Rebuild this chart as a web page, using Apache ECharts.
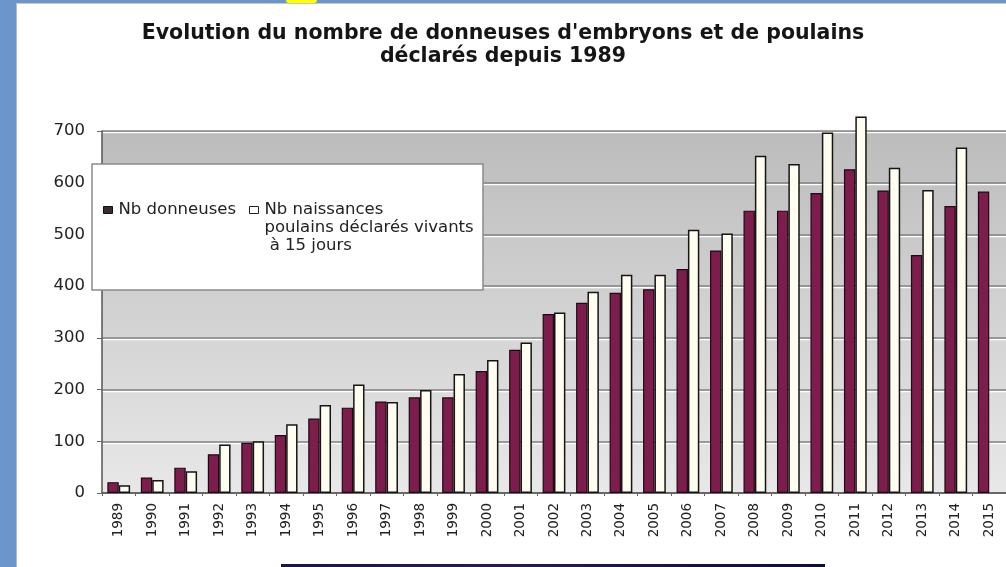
<!DOCTYPE html>
<html>
<head>
<meta charset="utf-8">
<script src="https://cdn.jsdelivr.net/npm/echarts@6/dist/echarts.min.js"></script>
<style>
html,body{margin:0;padding:0;background:#ffffff;}
#c{width:1006px;height:567px;}
</style>
</head>
<body>
<div id="c"></div>
<script>
var years = ['1989','1990','1991','1992','1993','1994','1995','1996','1997','1998','1999','2000','2001','2002','2003','2004','2005','2006','2007','2008','2009','2010','2011','2012','2013','2014','2015'];
var donneuses = [21,30,49,75,97,112,144,165,177,185,185,236,277,346,368,387,394,433,469,546,546,580,626,585,460,555,583];
var naissances = [15,25,42,94,100,133,170,210,176,199,230,257,291,349,389,422,422,509,502,652,636,697,728,629,586,668,null];
var yTicks = [0,100,200,300,400,500,600,700];
var titleText = "Evolution du nombre de donneuses d'embryons et de poulains\ndéclarés depuis 1989";
var name1 = 'Nb donneuses';
var name2 = 'Nb naissances poulains déclarés vivants à 15 jours';

var chart = echarts.init(document.getElementById('c'), null, {renderer:'canvas'});
var font = 'DejaVu Sans';
chart.setOption({
  animation: false,
  backgroundColor: '#ffffff',
  title: {
    text: titleText,
    left: 'center',
    top: 22,
    padding: 0,
    textStyle: {fontFamily: font, fontWeight: 'bold', fontSize: 20.5, lineHeight: 23, color: '#151515'}
  },
  legend: {
    left: 92, top: 164,
    padding: [1, 0, 35, 11],
    orient: 'horizontal',
    itemWidth: 9, itemHeight: 7, itemGap: 13,
    icon: 'rect',
    z: 6,
    data: [
      {name: name1, itemStyle: {color: '#3b2a32', borderColor: '#111', borderWidth: 1}},
      {name: name2, itemStyle: {color: '#ffffff', borderColor: '#222', borderWidth: 1}}
    ],
    formatter: function (n) {
      if (n === name1) return 'Nb donneuses';
      return '\n\nNb naissances\npoulains déclarés vivants\n à 15 jours';
    },
    textStyle: {fontFamily: font, fontSize: 16.5, lineHeight: 18, color: '#222', padding: [0,0,0,1]}
  },
  grid: {
    left: 102, top: 131, bottom: 74, right: -7.5,
    show: true, borderWidth: 0,
    backgroundColor: new echarts.graphic.LinearGradient(0, 0, 0, 1, [
      {offset: 0, color: '#bcbcbc'}, {offset: 1, color: '#e8e8e8'}
    ])
  },
  xAxis: {
    type: 'category',
    data: years,
    axisLine: {show: true, lineStyle: {color: '#555', width: 1.5}},
    axisTick: {show: true, length: 3, interval: 0, lineStyle: {color: '#666'}},
    axisLabel: {rotate: 90, interval: 0, margin: 10, fontFamily: font, fontSize: 13.5, color: '#222'},
    splitLine: {show: false}
  },
  yAxis: {
    type: 'value',
    min: 0, max: 700, interval: 100,
    axisLine: {show: true, lineStyle: {color: '#555', width: 1.5}},
    axisTick: {show: true, length: 5, lineStyle: {color: '#666'}},
    axisLabel: {margin: 17, fontFamily: font, fontSize: 16.5, color: '#222',
      formatter: function (v) { return yTicks.indexOf(v) >= 0 ? String(v) : ''; }},
    splitLine: {show: true, lineStyle: {color: '#828282', width: 1.5, shadowColor: '#ffffff', shadowOffsetY: 1.5, shadowBlur: 0}}
  },
  series: [
    {name: name1, type: 'bar', data: donneuses, barGap: '0%', barCategoryGap: '32%',
      itemStyle: {color: '#7d1d4c', borderColor: '#1e0a14', borderWidth: 1.2}},
    {name: name2, type: 'bar', data: naissances, barGap: '0%', barCategoryGap: '32%', clip: false,
      itemStyle: {color: '#fffdf0', borderColor: '#151515', borderWidth: 1.5}}
  ],
  graphic: [
    {type: 'rect', z: 5, shape: {x: 92, y: 164, width: 391, height: 126},
      style: {fill: '#ffffff', stroke: '#8a8a8a', lineWidth: 1.5}},
    {type: 'rect', z: 10, shape: {x: 0, y: 0, width: 16, height: 567}, style: {fill: '#6b95cb'}},
    {type: 'rect', z: 10, shape: {x: 0, y: 0, width: 1006, height: 3}, style: {fill: '#6b95cb'}},
    {type: 'line', z: 10, shape: {x1: 16.5, y1: 3, x2: 16.5, y2: 567}, style: {stroke: '#b8b8b8', lineWidth: 1}},
    {type: 'line', z: 10, shape: {x1: 16, y1: 3.5, x2: 1006, y2: 3.5}, style: {stroke: '#c8c8c8', lineWidth: 1}},
    {type: 'rect', z: 11, shape: {x: 286, y: -3, width: 31, height: 6, r: 3}, style: {fill: '#ffff00'}},
    {type: 'rect', z: 10, shape: {x: 281, y: 564, width: 544, height: 3},
      style: {fill: new echarts.graphic.LinearGradient(0, 0, 1, 0, [
        {offset: 0, color: '#1c1446'}, {offset: 0.4, color: '#2a1a50'}, {offset: 1, color: '#100c3a'}])}}
  ]
});
</script>
</body>
</html>
